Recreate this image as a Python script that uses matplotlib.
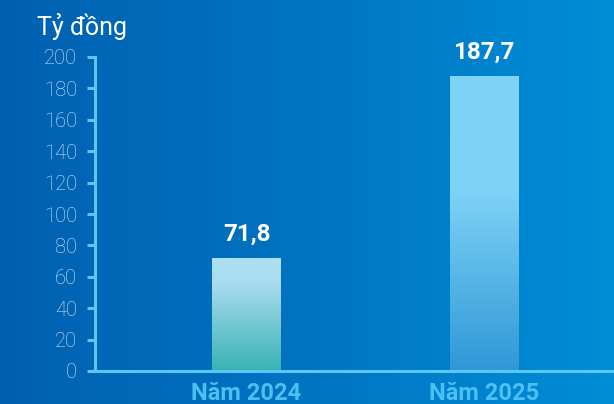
import numpy as np
import matplotlib
matplotlib.use("Agg")
import matplotlib.pyplot as plt
from matplotlib.colors import LinearSegmentedColormap

categories = ["Năm 2024", "Năm 2025"]
values = [71.8, 187.7]
value_labels = ["71,8", "187,7"]
yticks = [0, 20, 40, 60, 80, 100, 120, 140, 160, 180, 200]
unit_label = "Tỷ đồng"

plt.rcParams['font.family'] = ['Roboto', 'DejaVu Sans']

fig = plt.figure(figsize=(6.14, 4.04), dpi=100)

# background gradient
bg = fig.add_axes([0, 0, 1, 1], zorder=-10)
bg_cmap = LinearSegmentedColormap.from_list("bg", ["#0060b0", "#0074c2", "#008ed6"])
bg.imshow(np.linspace(0, 1, 256)[None, :], aspect='auto', cmap=bg_cmap,
          extent=[0, 1, 0, 1])
bg.set_axis_off()

W, H = 614, 404
ax_left, ax_right = 95 / W, 1.0
ax_bottom, ax_top = (H - 371) / H, (H - 57) / H
ax = fig.add_axes([ax_left, ax_bottom, ax_right - ax_left, ax_top - ax_bottom])
ax.patch.set_alpha(0)

x = np.arange(len(categories))
bar_w = 0.29

grad_maps = [
    LinearSegmentedColormap.from_list("b1", [(0, "#38b2b4"), (0.78, "#a9dcee"), (1, "#ade0f2")]),
    LinearSegmentedColormap.from_list("b2", [(0, "#2f98d6"), (0.61, "#7ed2f6"), (1, "#80d4f8")]),
]
for xi, v, cm, lab in zip(x, values, grad_maps, value_labels):
    grad = np.linspace(0, 1, 256)[:, None]
    ax.imshow(grad, cmap=cm, origin='lower', aspect='auto',
              extent=[xi - bar_w / 2, xi + bar_w / 2, 0, v], zorder=2)
    ax.annotate(lab, (xi, v), xytext=(0, 17.5), textcoords='offset points',
                ha='center', va='center', color='white', fontsize=17.5,
                fontweight='bold')

ax.set_xlim(-0.638, 1.547)
ax.set_ylim(0, 200)

axis_color = "#5cc6f2"
for s in ['top', 'right']:
    ax.spines[s].set_visible(False)
for s in ['left', 'bottom']:
    ax.spines[s].set_color(axis_color)
    ax.spines[s].set_linewidth(2.2)

ax.set_yticks(yticks)
ax.set_yticklabels([str(t) for t in yticks], color="#d2e6f6", fontsize=14.5,
                   fontweight='light')
ax.tick_params(axis='y', length=6, width=2.2, color=axis_color, pad=7)
ax.set_xticks(x)
ax.set_xticklabels(categories, color="#4cc0f2", fontsize=17, fontweight='bold')
ax.tick_params(axis='x', length=0, pad=8)

fig.text(37 / W, 1 - 27 / H, unit_label, color='white', fontsize=18,
         ha='left', va='center')

fig.savefig("out.png", dpi=100)
